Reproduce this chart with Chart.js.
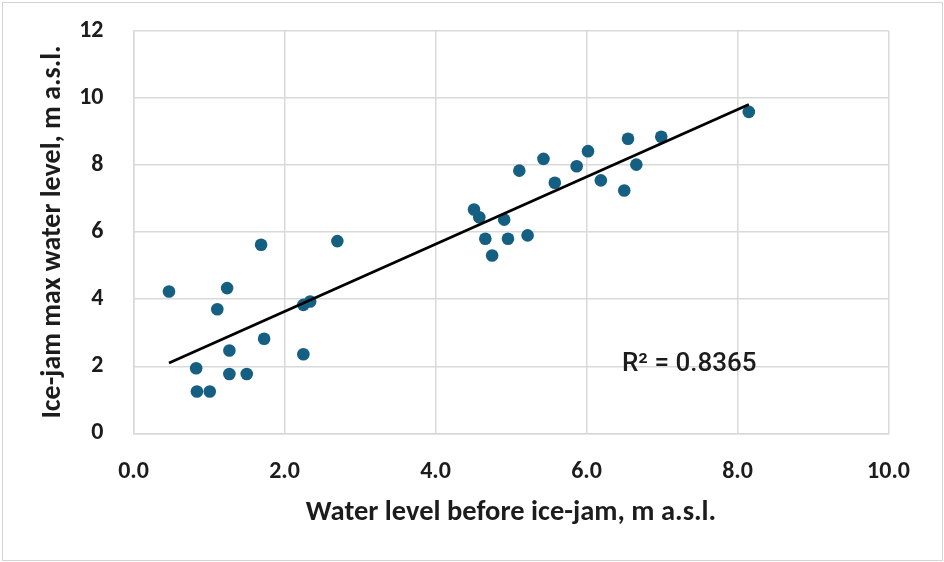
<!DOCTYPE html>
<html>
<head>
<meta charset="utf-8">
<script src="https://cdn.jsdelivr.net/npm/chart.js@4.4.1/dist/chart.umd.min.js"></script>
<style>
  html, body { margin: 0; padding: 0; background: #fff; }
  #wrap { position: relative; width: 944px; height: 562px; }
  #frame { position: absolute; left: 2px; top: 2px; width: 939px; height: 557px; border: 1px solid #d4d4d4; pointer-events: none; }
</style>
</head>
<body>
<div id="wrap">
  <canvas id="iceJamChart" width="944" height="562"></canvas>
  <div id="frame"></div>
</div>
<script>
// water level before ice-jam (x) vs ice-jam max water level (y), m a.s.l.
const levelBefore = [0.47, 0.83, 0.84, 1.01, 1.11, 1.24, 1.27, 1.27, 1.50, 1.69, 1.73,
  2.25, 2.25, 2.34, 2.70, 4.51, 4.58, 4.66, 4.75, 4.91, 4.96, 5.11, 5.22, 5.43,
  5.58, 5.87, 6.02, 6.19, 6.50, 6.55, 6.66, 6.99, 8.15];
const levelMax = [4.23, 1.94, 1.25, 1.25, 3.70, 4.33, 2.47, 1.77, 1.77, 5.62, 2.82,
  2.36, 3.83, 3.93, 5.73, 6.67, 6.44, 5.80, 5.30, 6.37, 5.80, 7.83, 5.90, 8.18,
  7.47, 7.96, 8.41, 7.54, 7.24, 8.78, 8.01, 8.84, 9.58];
const xTicks = [0, 2, 4, 6, 8, 10];
const yTicks = [0, 2, 4, 6, 8, 10, 12];
const r2Label = 'R\u00B2 = 0.8365';
const r2At = { x: 6.47, y: 2.04 };

const pointColor = '#156082';
const gridColor = '#d9d9d9';
const textColor = '#1c1c1c';
const fontFamily = 'Carlito, Lato, "Open Sans", sans-serif';

// least-squares trend line over the data range
function linearFit(xs, ys) {
  const n = xs.length;
  const mx = xs.reduce((a, b) => a + b, 0) / n;
  const my = ys.reduce((a, b) => a + b, 0) / n;
  let sxy = 0, sxx = 0;
  xs.forEach((x, i) => { sxy += (x - mx) * (ys[i] - my); sxx += (x - mx) * (x - mx); });
  const slope = sxy / sxx;
  return { slope, intercept: my - slope * mx };
}
const fit = linearFit(levelBefore, levelMax);
const xMin = Math.min(...levelBefore);
const xMax = Math.max(...levelBefore);
const trend = [xMin, xMax].map(x => ({ x, y: fit.intercept + fit.slope * x }));

const r2Plugin = {
  id: 'r2Label',
  afterDatasetsDraw(chart) {
    const { ctx, scales } = chart;
    ctx.save();
    ctx.font = '500 26px Roboto, sans-serif';
    ctx.fillStyle = textColor;
    ctx.textAlign = 'left';
    ctx.textBaseline = 'middle';
    ctx.fillText(r2Label, scales.x.getPixelForValue(r2At.x), scales.y.getPixelForValue(r2At.y));
    ctx.restore();
  }
};

new Chart(document.getElementById('iceJamChart'), {
  data: {
    datasets: [
      {
        type: 'scatter',
        data: levelBefore.map((x, i) => ({ x, y: levelMax[i] })),
        backgroundColor: pointColor,
        borderColor: pointColor,
        pointRadius: 6.3,
        borderWidth: 0,
        order: 2
      },
      {
        type: 'line',
        data: trend,
        borderColor: '#000000',
        borderWidth: 2.8,
        pointRadius: 0,
        fill: false,
        order: 1
      }
    ]
  },
  options: {
    responsive: false,
    animation: false,
    layout: { padding: { top: 30.7, right: 55.5, bottom: 0, left: 0 } },
    plugins: { legend: { display: false }, tooltip: { enabled: false } },
    scales: {
      x: {
        type: 'linear',
        min: 0,
        max: 10,
        afterBuildTicks: s => { s.ticks = xTicks.map(v => ({ value: v })); },
        afterFit: s => { s.height = 128.6; },
        grid: { color: gridColor, lineWidth: 1.5, drawTicks: false },
        border: { color: gridColor, width: 1.5 },
        ticks: {
          padding: 24,
          color: textColor,
          font: { family: fontFamily, size: 24, weight: 'bold' },
          callback: v => v.toFixed(1)
        },
        title: {
          display: true,
          text: 'Water level before ice-jam, m a.s.l.',
          color: textColor,
          font: { family: fontFamily, size: 28.5, weight: 'bold' },
          padding: { top: 0, bottom: 32 }
        }
      },
      y: {
        type: 'linear',
        min: 0,
        max: 12,
        afterBuildTicks: s => { s.ticks = yTicks.map(v => ({ value: v })); },
        afterFit: s => { s.width = 133.5; s.paddingTop = 0; s.paddingBottom = 0; },
        grid: { color: gridColor, lineWidth: 1.5, drawTicks: false },
        border: { color: gridColor, width: 1.5 },
        ticks: {
          padding: 30,
          color: textColor,
          font: { family: fontFamily, size: 24, weight: 'bold' },
          callback: v => String(v)
        },
        title: {
          display: true,
          text: 'Ice-jam max water level, m a.s.l.',
          color: textColor,
          font: { family: fontFamily, size: 28, weight: 'bold' },
          padding: { top: 36, bottom: 0 }
        }
      }
    }
  },
  plugins: [r2Plugin]
});
</script>
</body>
</html>
